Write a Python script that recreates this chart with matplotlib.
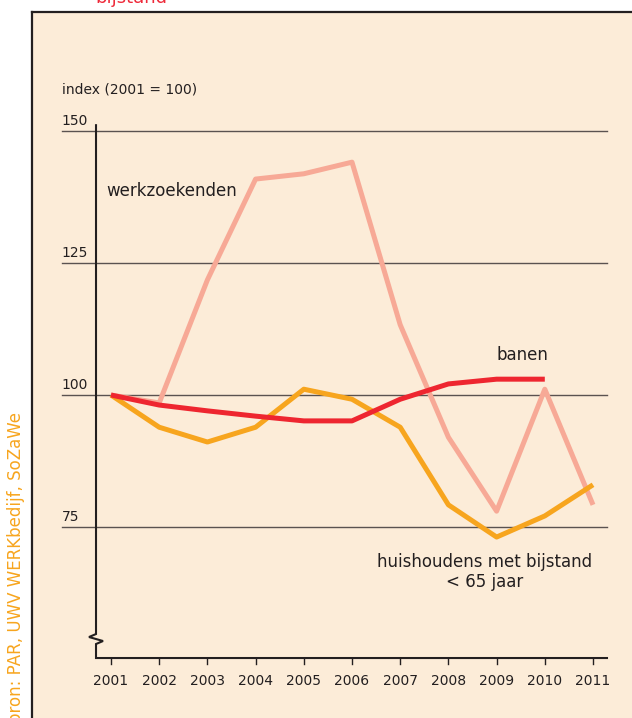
import matplotlib
matplotlib.use('Agg')
import matplotlib.pyplot as plt

years = [2001, 2002, 2003, 2004, 2005, 2006, 2007, 2008, 2009, 2010, 2011]
werkzoekenden = [100, 98.5, 121.8, 140.9, 141.9, 144.1, 113.3, 92.0, 78.0, 101.1, 79.2]
banen = [100, 98.1, 97.0, 96.0, 95.1, 95.1, 99.2, 102.1, 103.0, 103.0]
huishoudens = [100, 93.9, 91.1, 93.9, 101.1, 99.2, 93.9, 79.2, 73.1, 77.1, 83.0]
grid_levels = [150, 125, 100, 75]

bg = '#fcecd8'
ink = '#231f20'

fig = plt.figure(figsize=(6.32, 7.18), dpi=100)
fig.patch.set_facecolor('white')
ax = fig.add_axes([32 / 632, 0, 600 / 632, 706 / 718])
ax.set_facecolor(bg)
ax.set_xlim(1999.361, 2011.809)
ax.set_ylim(38.83, 172.54)
for s in ['bottom', 'right']:
    ax.spines[s].set_visible(False)
for s in ['left', 'top']:
    ax.spines[s].set_linewidth(1.6)
    ax.spines[s].set_color(ink)
ax.set_xticks([])
ax.set_yticks([])

# gridlines with labels above them
for g in grid_levels:
    ax.plot([1999.98, 2011.29], [g, g], color='#5a5250', lw=1.0, zorder=1)
    ax.text(1999.98, g + 0.6, str(g), fontsize=10, color=ink, ha='left', va='bottom')

ax.text(1999.98, 157.9, 'index (2001 = 100)', fontsize=10, color=ink, ha='left', va='center')

# y axis with break symbol
xa = 2000.689
dx = 1 / 48.2
dy = 1 / 5.28
ybreak = 100 - (634 - 395) / 5.28
ax.plot([xa, xa, xa - 7 * dx, xa + 7 * dx, xa, xa, 2011.29],
        [151.1, ybreak, ybreak - 3 * dy, ybreak - 7 * dy, ybreak - 10 * dy, 50.19, 50.19],
        color=ink, lw=1.5, zorder=2, solid_joinstyle='miter')

# x ticks and labels
for yr in years:
    ax.plot([yr, yr], [50.19, 50.19 - 6 * dy], color=ink, lw=1.0)
    ax.text(yr, 50.19 - 23 * dy, str(yr), fontsize=10, color=ink, ha='center', va='center')

ax.plot(years, werkzoekenden, color='#f7a996', lw=3.6, zorder=3, solid_capstyle='butt')
ax.plot(years, huishoudens, color='#f7a51e', lw=3.6, zorder=4, solid_capstyle='butt')
ax.plot(years[:len(banen)], banen, color='#ee2630', lw=3.6, zorder=5, solid_capstyle='butt')

ax.text(2000.9, 138.6, 'werkzoekenden', fontsize=12, color=ink, ha='left', va='center')
ax.text(2009.53, 107.6, 'banen', fontsize=12, color=ink, ha='center', va='center')
ax.text(2008.75, 66.4, 'huishoudens met bijstand\n< 65 jaar', fontsize=12, color=ink,
        ha='center', va='center', linespacing=1.15)

fig.text(131 / 632, 1 - 3 / 718, 'bijstand', fontsize=13, color='#ee2a3a', ha='center', va='baseline')
fig.text(16 / 632, 1 - 412 / 718, 'bron: PAR, UWV WERKbedijf, SoZaWe', fontsize=12,
         color='#f7a51e', rotation=90, ha='center', va='top')

fig.savefig('out.png', dpi=100)
